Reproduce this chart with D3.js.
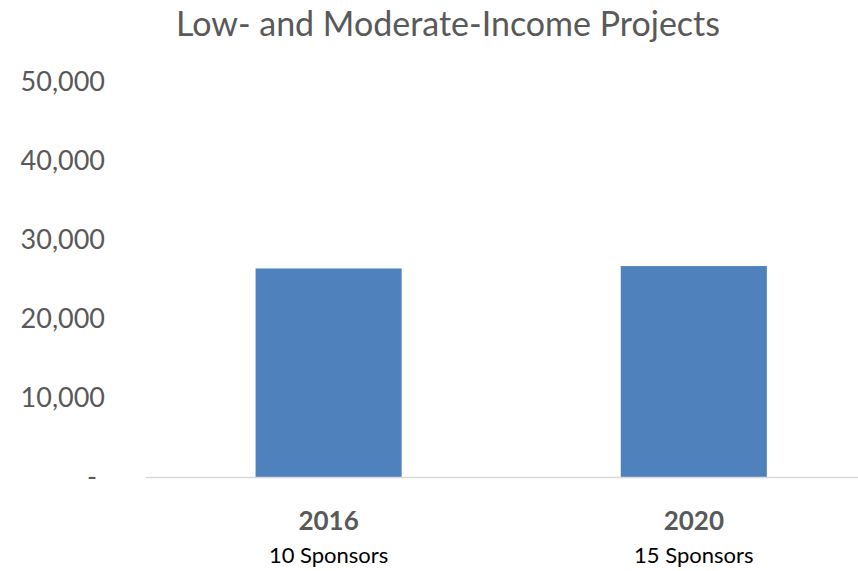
<!DOCTYPE html>
<html lang="en">
<head>
  <meta charset="UTF-8">
  <title>Low- and Moderate-Income Projects</title>
  <style>
    body, html {
      margin: 0;
      padding: 0;
      background: #fff;
    }
    text {
      font-family: Lato, "Noto Sans", sans-serif;
      fill: #595959;
    }
  </style>
</head>
<body>
  <svg id="svg" width="858" height="571"></svg>
  <script src="https://d3js.org/d3.v7.min.js"></script>
  <script>
    const years = ['2016', '2020']
    const sponsors = ['10 Sponsors', '15 Sponsors']
    const projects = [26400, 26700]
    const yTicks = [0, 10000, 20000, 30000, 40000, 50000]

    const svg = d3.select('#svg')

    // plot area
    const x = d3.scaleBand()
      .domain(years)
      .range([146, 876.4])
      .paddingInner(0.6)
      .paddingOuter(0.3)

    const y = d3.scaleLinear()
      .domain([0, 50000])
      .range([477, 82])

    const num_f = d3.format(',')

    // title
    svg.append('text')
      .attr('x', 448)
      .attr('y', 36)
      .attr('text-anchor', 'middle')
      .attr('font-size', 34)
      .text('Low- and Moderate-Income Projects')

    // y labels (no axis line, no gridlines)
    svg.append('g')
      .selectAll('text')
      .data(yTicks)
      .join('text')
      .attr('x', d => d === 0 ? 97 : 105)
      .attr('y', d => y(d))
      .attr('dy', '0.35em')
      .attr('text-anchor', 'end')
      .attr('font-size', 27)
      .text(d => d === 0 ? '-' : num_f(d))

    // bars
    svg.append('g')
      .selectAll('rect')
      .data(projects)
      .join('rect')
      .attr('x', (d, i) => x(years[i]))
      .attr('y', d => y(d))
      .attr('width', x.bandwidth())
      .attr('height', d => y(0) - y(d))
      .attr('fill', '#4f81bd')

    // baseline
    svg.append('line')
      .attr('x1', 146)
      .attr('x2', 858)
      .attr('y1', y(0) + 0.5)
      .attr('y2', y(0) + 0.5)
      .attr('stroke', '#d9d9d9')
      .attr('stroke-width', 1.5)

    // category labels
    const cats = svg.append('g')
      .selectAll('g')
      .data(years)
      .join('g')
      .attr('transform', d => `translate(${x(d) + x.bandwidth() / 2}, 0)`)

    cats.append('text')
      .attr('y', 530)
      .attr('text-anchor', 'middle')
      .attr('font-size', 26)
      .attr('font-weight', 'bold')
      .text(d => d)

    cats.append('text')
      .attr('y', 563)
      .attr('text-anchor', 'middle')
      .attr('font-size', 22)
      .style('fill', '#000')
      .text((d, i) => sponsors[i])
  </script>
</body>
</html>
